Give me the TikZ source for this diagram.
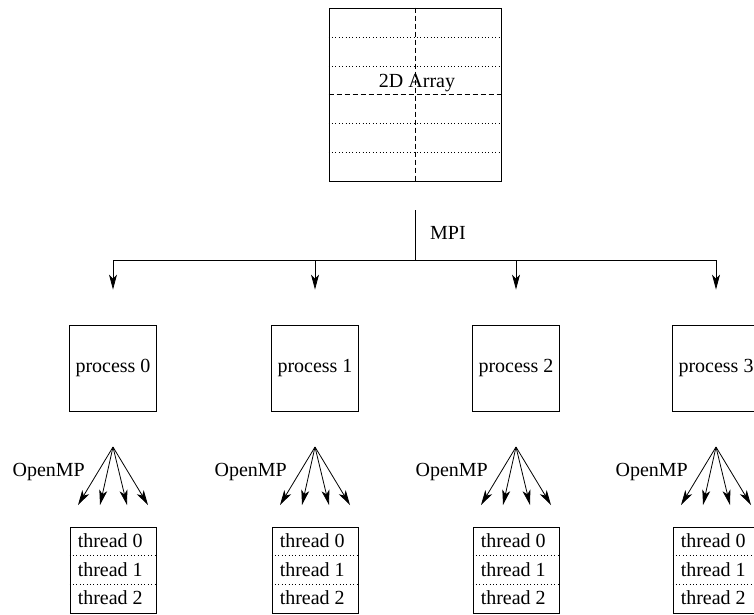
\documentclass[tikz,border=0pt]{standalone}
\usepackage{fontspec}
\setmainfont{Liberation Serif}
\usetikzlibrary{arrows.meta,calc}
\tikzset{
  lbl/.style={font=\fontsize{20}{24}\selectfont, inner sep=0pt},
  boxline/.style={draw=black, line width=0.9pt},
  arraybox/.style={boxline, minimum width=172pt, minimum height=173pt, inner sep=0pt},
  procbox/.style={boxline, minimum width=87pt, minimum height=86pt, inner sep=0pt, font=\fontsize{20}{24}\selectfont},
  thbox/.style={boxline, minimum width=86pt, minimum height=86pt, inner sep=0pt},
  arr/.style={line width=0.8pt, -{Stealth[length=15pt,width=8pt,inset=4pt]}},
  conn/.style={line width=0.8pt},
  dashline/.style={line width=0.8pt, dash pattern=on 5pt off 3pt},
  dotline/.style={line width=0.8pt, dash pattern=on 0.8pt off 2.6pt},
}
\begin{document}
\begin{tikzpicture}[x=1pt,y=-1pt]
\useasboundingbox (0,0) rectangle (754,614);
\clip (0,0) rectangle (754,614);
% 2D array
\node[arraybox] (arr) at (415,94.5) {};
\foreach \yy in {37,66,123,152}{
  \draw[dotline] (arr.west |- 0,\yy) -- (arr.east |- 0,\yy);
}
\draw[dashline] (arr.west |- 0,94) -- (arr.east |- 0,94);
\draw[dashline] (arr.north) -- (arr.south);
\node[lbl] (arrlbl) at (417,83) {2D Array};
% MPI distribution
\coordinate (mpitop) at (415,210);
\coordinate (mpij) at (415,260);
\draw[conn] (mpitop) -- (mpij);
\node[lbl, anchor=west] (mpi) at (430,233) {MPI};
\coordinate (bl) at (113,260);
\coordinate (br) at (716,260);
\draw[conn] (bl) -- (br);
\foreach \i/\cx in {0/113,1/315,2/516,3/716}{
  \coordinate (b\i) at (\cx,260);
  \node[procbox] (p\i) at (\cx,368) {process \i};
  \draw[arr, shorten >=35pt] (b\i) -- (p\i.north);
  \coordinate (apex\i) at (\cx,447);
  \node[lbl, anchor=east] (omp\i) at (\cx-28,472) {OpenMP};
  \foreach \k/\dx in {a/-35,b/-13,c/14,d/35}{
    \coordinate (e\i\k) at (\cx+\dx,505);
    \draw[arr] (apex\i) -- (e\i\k);
  }
  \node[thbox] (t\i) at (\cx,570) {};
  \draw[dotline] ($(t\i.north west)!1/3!(t\i.south west)$) -- ($(t\i.north east)!1/3!(t\i.south east)$);
  \draw[dotline] ($(t\i.north west)!2/3!(t\i.south west)$) -- ($(t\i.north east)!2/3!(t\i.south east)$);
  \node[lbl, anchor=west] (th\i a) at ($(t\i.north west)+(8,14.5)$) {thread 0};
  \node[lbl, anchor=west] (th\i b) at ($(t\i.north west)+(8,43)$) {thread 1};
  \node[lbl, anchor=west] (th\i c) at ($(t\i.north west)+(8,71.5)$) {thread 2};
}
\end{tikzpicture}
\end{document}
